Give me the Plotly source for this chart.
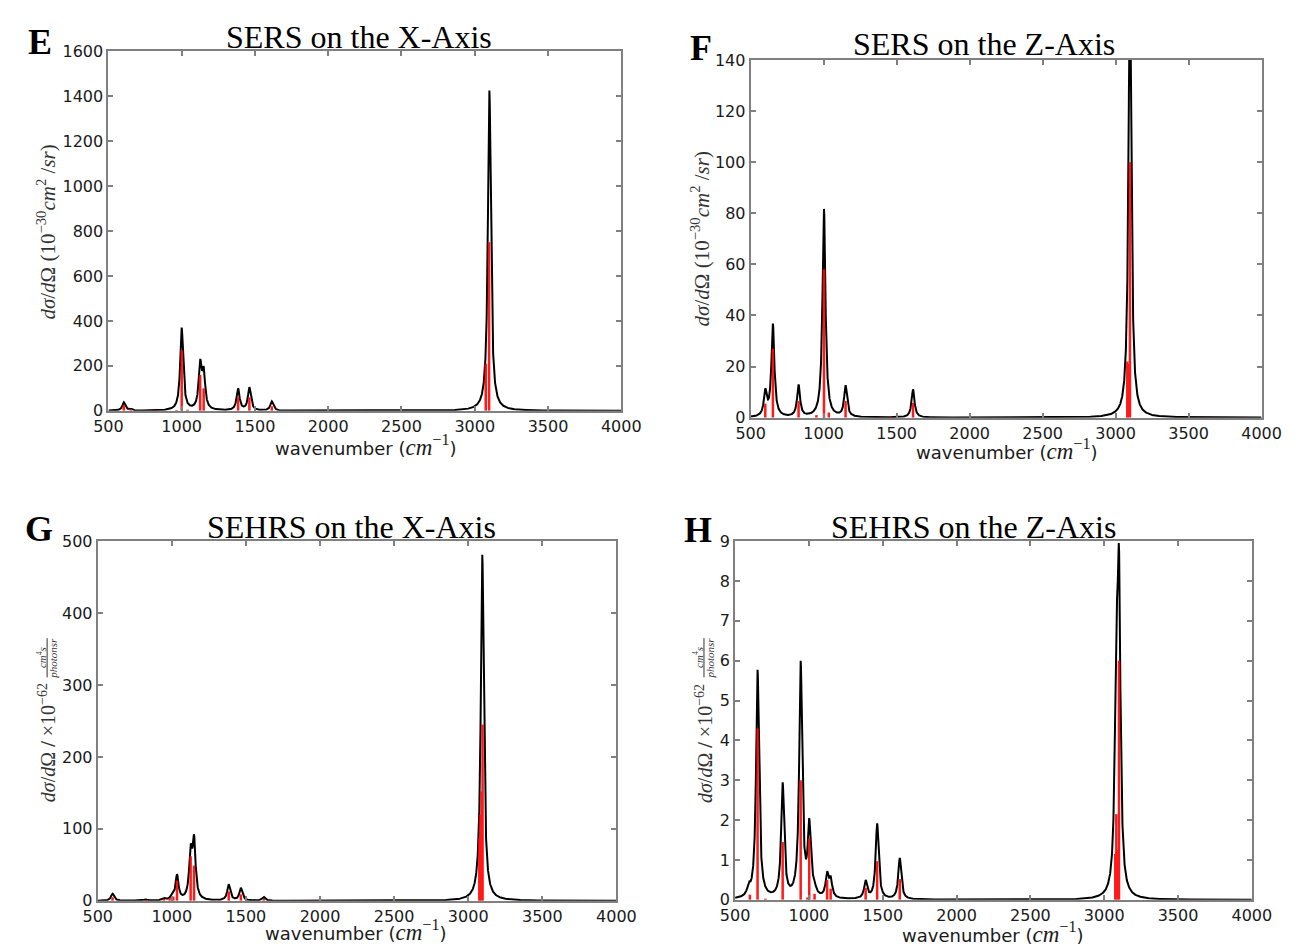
import numpy as np
import plotly.graph_objects as go

W, H = 1303, 951
GAMMA = 12.0  # Lorentzian half width (cm^-1) used for the broadened envelope

# ---------------- data ----------------
x_ticks = [500, 1000, 1500, 2000, 2500, 3000, 3500, 4000]

# E: SERS on the X-Axis
E_band_pos = [605, 652, 830, 1000, 1126, 1150, 1385, 1462, 1615, 3100]
E_band_h = [38, 10, 5, 370, 230, 197, 100, 105, 42, 1425]
E_stick_pos = [605, 652, 830, 965, 1000, 1040, 1126, 1150, 1385, 1462, 1615, 3075, 3098]
E_stick_h = [25, 8, 4, 4, 270, 5, 160, 100, 60, 60, 20, 210, 750]

# F: SERS on the Z-Axis
F_band_pos = [600, 652, 828, 1002, 1150, 1612, 3098]
F_band_h = [11.5, 36.8, 13, 81.7, 12.7, 11.1, 170]
F_stick_pos = [600, 652, 828, 950, 1002, 1035, 1150, 1460, 1612, 3080, 3086, 3098]
F_stick_h = [5.5, 27, 6.5, 1, 58, 2, 6.5, 0.4, 5.8, 22, 21, 100]

# G: SEHRS on the X-Axis
G_band_pos = [600, 823, 947, 1002, 1035, 1127, 1150, 1384, 1466, 1620, 3095]
G_band_h = [10, 2, 4, 10, 37, 79, 92, 23, 18, 5.5, 481]
G_stick_pos = [600, 823, 947, 985, 1010, 1035, 1127, 1150, 1320, 1384, 1466, 1620,
               3075, 3082, 3090, 3097]
G_stick_h = [5, 1, 3, 4, 6, 28, 62, 49, 1, 13, 9, 2.5, 87, 120, 152, 245]

# H: SEHRS on the Z-Axis
H_band_pos = [592, 652, 822, 944, 1002, 1035, 1123, 1147, 1384, 1462, 1615, 3082, 3100]
H_band_h = [0.45, 5.77, 2.95, 6.0, 2.05, 0.55, 0.72, 0.6, 0.5, 1.92, 1.05, 7.2, 8.88]
H_stick_pos = [600, 652, 705, 822, 944, 990, 1002, 1038, 1123, 1147, 1384, 1462, 1615,
               3075, 3082, 3092, 3100]
H_stick_h = [0.13, 4.3, 0.03, 1.45, 3.0, 0.06, 1.55, 0.15, 0.5, 0.28, 0.3, 0.97, 0.52,
             1.15, 2.15, 1.25, 6.0]

titles = ["SERS on the X-Axis", "SERS on the Z-Axis", "SEHRS on the X-Axis", "SEHRS on the Z-Axis"]
letters = ["E", "F", "G", "H"]
y_ranges = [(0, 1600, 200), (0, 140, 20), (0, 500, 100), (0, 9, 1)]

# ---------------- helpers ----------------
def envelope(pos, h, x):
    c = np.asarray(pos, float)
    hh = np.asarray(h, float)
    A = GAMMA**2 / ((c[:, None] - c[None, :])**2 + GAMMA**2)
    amp = np.linalg.solve(A, hh)
    return (amp[None, :] * GAMMA**2 / ((x[:, None] - c[None, :])**2 + GAMMA**2)).sum(axis=1)

def sticks(pos, h):
    xs, ys = [], []
    for p, v in zip(pos, h):
        xs += [p, p, None]
        ys += [0, v, None]
    return xs, ys

def px(x):  # pixel -> paper fraction
    return x / W

def py(y):
    return 1 - y / H

xgrid = np.arange(500, 4000.01, 0.5)

panels = [
    dict(bp=E_band_pos, bh=E_band_h, sp=E_stick_pos, sh=E_stick_h, box=(96, 623, 43, 410)),
    dict(bp=F_band_pos, bh=F_band_h, sp=F_stick_pos, sh=F_stick_h, box=(756, 1281, 52, 417)),
    dict(bp=G_band_pos, bh=G_band_h, sp=G_stick_pos, sh=G_stick_h, box=(85, 618, 543, 910)),
    dict(bp=H_band_pos, bh=H_band_h, sp=H_stick_pos, sh=H_stick_h, box=(740, 1271, 543, 909)),
]

fig = go.Figure()
axis_common = dict(
    showline=True, linecolor="#808080", linewidth=2, mirror="ticks",
    ticks="inside", ticklen=5, tickwidth=1.5, tickcolor="#808080",
    showgrid=False, zeroline=False,
    tickfont=dict(family="DejaVu Sans", size=16, color="#1a1a1a"),
)

for i, p in enumerate(panels):
    n = "" if i == 0 else str(i + 1)
    xa, ya = "x" + n, "y" + n
    l, r, t, b = p["box"]
    y0, y1, dy = y_ranges[i]
    fig.add_trace(go.Scatter(x=xgrid, y=envelope(p["bp"], p["bh"], xgrid), mode="lines",
                             line=dict(color="#000000", width=2), xaxis=xa, yaxis=ya,
                             showlegend=False, hoverinfo="skip"))
    sx, sy = sticks(p["sp"], p["sh"])
    fig.add_trace(go.Scatter(x=sx, y=sy, mode="lines", line=dict(color="#ff0000", width=2.5),
                             opacity=0.9, xaxis=xa, yaxis=ya, showlegend=False, hoverinfo="skip"))
    fig.update_layout(**{
        "xaxis" + n: dict(domain=[px(l), px(r)], range=[500, 4000], tickvals=x_ticks,
                          anchor=ya, **axis_common),
        "yaxis" + n: dict(domain=[py(b), py(t)], range=[y0, y1], dtick=dy, tick0=0,
                          anchor=xa, **axis_common),
    })

ann = []
def add_text(cx, cy, text, font, angle=0):
    ann.append(dict(x=px(cx), y=py(cy), xref="paper", yref="paper", text=text, showarrow=False,
                    xanchor="center", yanchor="middle", textangle=angle, font=font))

# titles
for (cx, cy), txt in zip([(354, 29), (996, 36), (346, 529), (985, 529)], titles):
    add_text(cx, cy, txt, dict(family="Liberation Serif", size=32, color="#000000"))
# panel letters
for (cx, cy), txt in zip([(26, 34), (705, 40), (25, 531), (702, 532)], letters):
    add_text(cx, cy, "<b>" + txt + "</b>", dict(family="Liberation Serif", size=36, color="#000000"))
# x-axis titles
xlab = ("wavenumber (<span style='font-family:Liberation Serif;font-size:23px'>"
        "<i>cm</i><sup>−1</sup></span>)")
for cx, cy in [(360, 445), (1019, 449), (350, 940), (1004, 942)]:
    add_text(cx, cy, xlab, dict(family="DejaVu Sans", size=18, color="#1a1a1a"))
# y-axis titles
ylab_sers = "<i>dσ</i>/<i>d</i>Ω (10<sup>−30</sup><i>cm</i><sup>2</sup> /<i>sr</i>)"
for cx, cy in [(32, 228), (704, 235)]:
    add_text(cx, cy, ylab_sers, dict(family="Liberation Serif", size=21, color="#333333"), angle=-90)
ylab_sehrs = "<i>dσ</i>/<i>d</i>Ω <b>/</b> ×10<sup>−62</sup>"
frac_font = dict(family="Liberation Serif", size=11, color="#333333")
for cx, cy, fy in [(33, 749, 662), (708, 749, 662)]:
    add_text(cx, cy, ylab_sehrs, dict(family="Liberation Serif", size=20, color="#333333"), angle=-90)
    add_text(cx - 6, fy, "<i>cm</i><sup>4</sup><i>s</i>", frac_font, angle=-90)
    add_text(cx + 6, fy, "<i>photonsr</i>", frac_font, angle=-90)

shapes = []
for cx, fy in [(33, 662), (708, 662)]:
    shapes.append(dict(type="line", xref="paper", yref="paper",
                       x0=px(cx), x1=px(cx), y0=py(fy + 20), y1=py(fy - 20),
                       line=dict(color="#333333", width=1)))

fig.update_layout(
    width=W, height=H, autosize=False,
    margin=dict(l=0, r=0, t=0, b=0),
    paper_bgcolor="#ffffff", plot_bgcolor="#ffffff",
    annotations=ann, shapes=shapes,
)

fig.write_html("out.html", config={"displayModeBar": False},
               post_script="document.body.style.margin='0';document.body.style.overflow='hidden';")
